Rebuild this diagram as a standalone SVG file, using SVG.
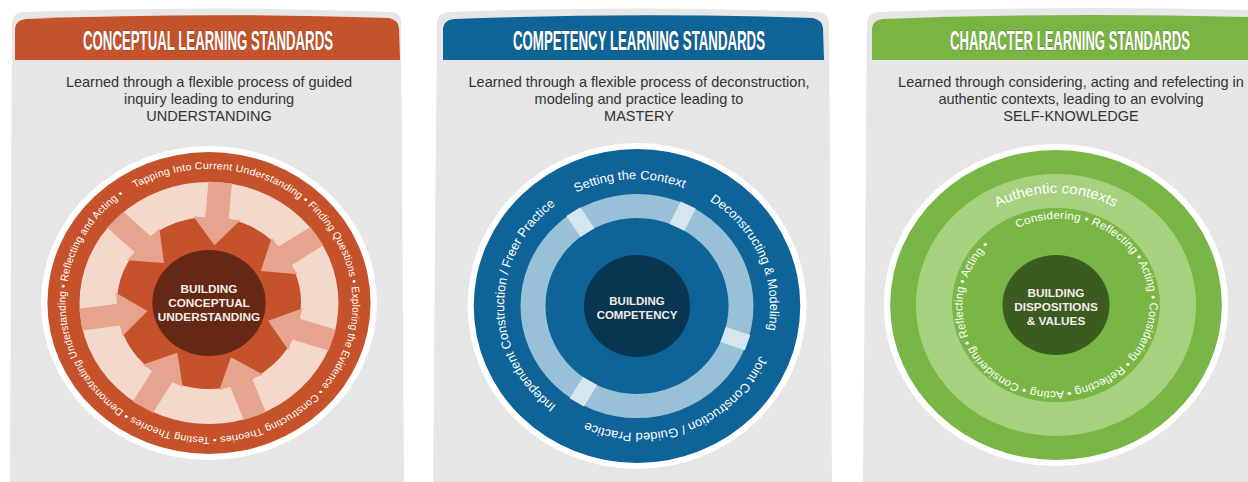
<svg xmlns="http://www.w3.org/2000/svg" width="1248" height="482" viewBox="0 0 1248 482">
<style>
.panel{fill:#e6e6e6}
.hdr{font-family:"Liberation Sans Narrow","Liberation Sans",Arial,sans-serif;font-weight:bold;font-size:28px;fill:#ffffff;text-anchor:middle;stroke:#4a3a34;stroke-width:0.5;paint-order:stroke}
.desc{font-family:"Liberation Sans",Arial,sans-serif;font-size:14.5px;fill:#333333;text-anchor:middle}
.ctr{font-family:"Liberation Sans",Arial,sans-serif;font-weight:bold;font-size:11px;fill:#f4ece8;text-anchor:middle}
.ring{font-family:"Liberation Sans",Arial,sans-serif;fill:#ffffff}
</style>
<defs>
<polygon id="arr" points="-11,-121 11,-121 11,-85 22,-85 0,-58 -22,-85 -11,-85" fill="#e6a48e"/>
</defs>
<rect width="1248" height="482" fill="#ffffff"/>

<g id="panel-conceptual">
<path class="panel" d="M10,482 L12,22 Q13,13 23,12 Q207,5 392,12 Q401,13 401,22 L404,482 Z"/>
<path fill="#c4522a" d="M15,60 L15,28 Q16,20 26,19 Q207,12 389,18 Q398,20 399,28 L400,60 Z"/>
<text class="hdr" x="208" y="50" textLength="250" lengthAdjust="spacingAndGlyphs">CONCEPTUAL LEARNING STANDARDS</text>
<text class="desc" x="209" y="87">Learned through a flexible process of guided</text>
<text class="desc" x="209" y="104">inquiry leading to enduring</text>
<text class="desc" x="209" y="121">UNDERSTANDING</text>
</g>

<g id="panel-competency">
<path class="panel" d="M433,482 L437,22 Q438,13 448,12 Q633,5 819,12 Q828,13 829,22 L832,482 Z"/>
<path fill="#0f6497" d="M443,60 L443,28 Q444,20 454,19 Q633,12 813,18 Q822,20 823,28 L824,60 Z"/>
<text class="hdr" x="639" y="50" textLength="252" lengthAdjust="spacingAndGlyphs">COMPETENCY LEARNING STANDARDS</text>
<text class="desc" x="639" y="87">Learned through a flexible process of deconstruction,</text>
<text class="desc" x="639" y="104">modeling and practice leading to</text>
<text class="desc" x="639" y="121">MASTERY</text>
</g>

<g id="panel-character">
<path class="panel" d="M863,482 L867,22 Q868,13 878,12 Q1060,5 1248,10 L1248,482 Z"/>
<path fill="#7ab544" d="M872,60 L872,28 Q873,20 883,19 Q1060,12 1248,17 L1248,60 Z"/>
<text class="hdr" x="1070" y="50" textLength="240" lengthAdjust="spacingAndGlyphs">CHARACTER LEARNING STANDARDS</text>
<text class="desc" x="1071" y="87">Learned through considering, acting and refelecting in</text>
<text class="desc" x="1071" y="104">authentic contexts, leading to an evolving</text>
<text class="desc" x="1071" y="121">SELF-KNOWLEDGE</text>
</g>

<g id="circle-conceptual" transform="translate(209,303) scale(1.07,1)">
<circle r="157" fill="#ffffff"/>
<circle r="151" fill="#c5522a"/>
<circle r="103.5" fill="none" stroke="#f4d8cb" stroke-width="35"/>
<g id="arrows">
<use href="#arr" transform="rotate(5)"/>
<use href="#arr" transform="rotate(56.43)"/>
<use href="#arr" transform="rotate(107.86)"/>
<use href="#arr" transform="rotate(159.29)"/>
<use href="#arr" transform="rotate(210.71)"/>
<use href="#arr" transform="rotate(262.14)"/>
<use href="#arr" transform="rotate(313.57)"/>
</g>
<circle r="53" fill="#652816"/>
<path id="p1" fill="none" d="M-69.0,-114.9 A134,134 0 1 1 69.0,114.9 A134,134 0 1 1 -69.0,-114.9"/>
<text class="ring" font-size="10"><textPath href="#p1" textLength="829" lengthAdjust="spacing">Tapping Into Current Understanding • Finding Questions • Exploring the Evidence • Constructing Theories • Testing Theories • Demonstrating Understanding • Reflecting and Acting •</textPath></text>
<text class="ctr" y="-10">BUILDING</text>
<text class="ctr" y="4">CONCEPTUAL</text>
<text class="ctr" y="18">UNDERSTANDING</text>
</g>

<g id="circle-competency" transform="translate(637,306) scale(1.04,1)">
<circle r="163" fill="#ffffff"/>
<circle r="157" fill="#0e6398"/>
<circle r="100" fill="none" stroke="#98c1d7" stroke-width="24"/>
<rect x="-8" y="-112.5" width="16" height="25" fill="#d5e6ee" transform="rotate(-33)"/>
<rect x="-8" y="-112.5" width="16" height="25" fill="#d5e6ee" transform="rotate(26)"/>
<rect x="-8" y="-112.5" width="16" height="25" fill="#d5e6ee" transform="rotate(109)"/>
<rect x="-8" y="-112.5" width="16" height="25" fill="#d5e6ee" transform="rotate(211)"/>
<circle r="51" fill="#083550"/>
<path id="p2" fill="none" d="M-53.2,114.2 A126,126 0 1 1 53.2,-114.2 A126,126 0 1 1 -53.2,114.2"/>
<text class="ring" font-size="12.5" text-anchor="middle">
<textPath href="#p2" startOffset="42.2%">Setting the Context</textPath>
<textPath href="#p2" startOffset="61.7%">Deconstructing &amp; Modeling</textPath>
<textPath href="#p2" startOffset="86.9%">Joint Construction / Guided Practice</textPath>
<textPath href="#p2" startOffset="18.1%">Independent Construction / Freer Practice</textPath>
</text>
<text class="ctr" y="-1">BUILDING</text>
<text class="ctr" y="13">COMPETENCY</text>
</g>

<g id="circle-character" transform="translate(1056,305) scale(1.07,1)">
<circle r="161" fill="#ffffff"/>
<circle r="155" fill="#7ab646"/>
<circle r="114" fill="none" stroke="#a7d07f" stroke-width="34"/>
<circle r="97" fill="#7ab646"/>
<circle r="50" fill="#3b5b22"/>
<path id="p3a" fill="none" d="M0,112 A112,112 0 1 1 0,-112 A112,112 0 1 1 0,112"/>
<text class="ring" font-size="14" fill="#eef6e6" text-anchor="middle"><textPath href="#p3a" startOffset="50%">Authentic contexts</textPath></text>
<path id="p3b" fill="none" d="M-35.9,-77.0 A85,85 0 1 1 35.9,77.0 A85,85 0 1 1 -35.9,-77.0"/>
<text class="ring" font-size="11"><textPath href="#p3b" textLength="512" lengthAdjust="spacing">Considering • Reflecting • Acting • Considering • Reflecting • Acting • Considering • Reflecting • Acting •</textPath></text>
<text class="ctr" y="-8">BUILDING</text>
<text class="ctr" y="6">DISPOSITIONS</text>
<text class="ctr" y="20">&amp; VALUES</text>
</g>
</svg>
